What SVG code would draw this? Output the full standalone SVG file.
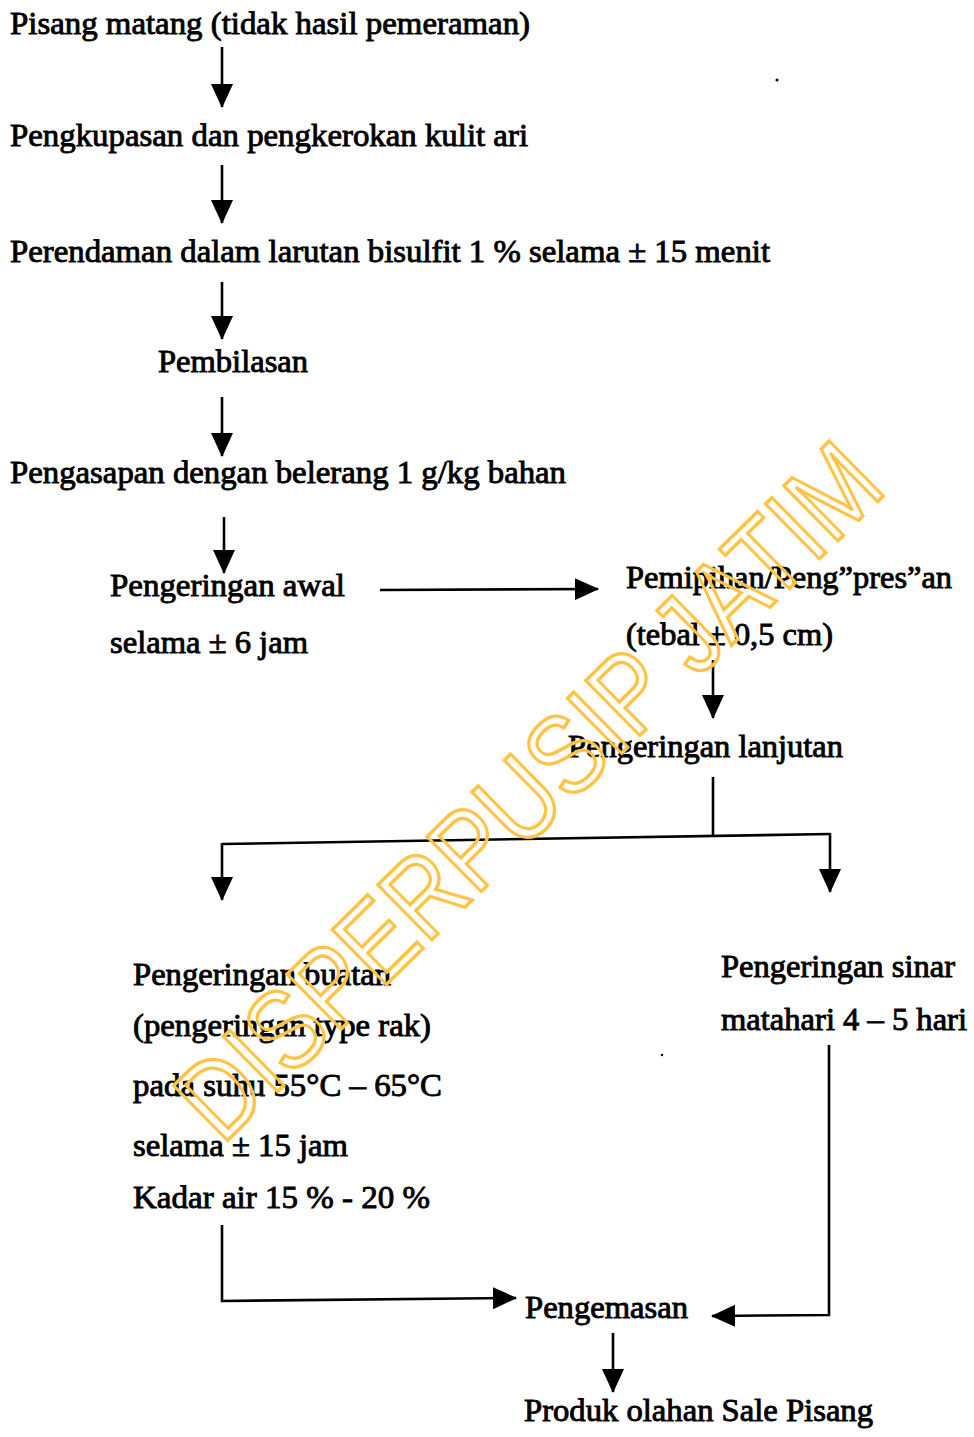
<svg xmlns="http://www.w3.org/2000/svg" width="974" height="1437" viewBox="0 0 974 1437">
<style>
.t{font-family:"Liberation Serif","Times New Roman",serif;font-size:32px;fill:#000;stroke:#000;stroke-width:0.9px}
.c{fill:none;stroke:#000;stroke-width:2.6px}
.wm{font-family:"Liberation Sans",Arial,sans-serif;font-size:112px;fill:none;stroke:#FFC447;stroke-width:3.5px}
</style>
<defs>
<marker id="ah" viewBox="0 0 24 22" refX="23" refY="11" markerWidth="24" markerHeight="22" markerUnits="userSpaceOnUse" orient="auto">
<path d="M0,0 L24,11 L0,22 Z" fill="#000"/>
</marker>
</defs>
<rect width="974" height="1437" fill="#fff"/>
<g id="n1"><text class="t" x="10" y="34" textLength="520" lengthAdjust="spacingAndGlyphs">Pisang matang (tidak hasil pemeraman)</text></g>
<g id="n2"><text class="t" x="10" y="146" textLength="518" lengthAdjust="spacingAndGlyphs">Pengkupasan dan pengkerokan kulit ari</text></g>
<g id="n3"><text class="t" x="10" y="262" textLength="760" lengthAdjust="spacingAndGlyphs">Perendaman dalam larutan bisulfit 1 % selama ± 15 menit</text></g>
<g id="n4"><text class="t" x="158" y="372" textLength="150" lengthAdjust="spacingAndGlyphs">Pembilasan</text></g>
<g id="n5"><text class="t" x="10" y="483" textLength="556" lengthAdjust="spacingAndGlyphs">Pengasapan dengan belerang 1 g/kg bahan</text></g>
<g id="n6"><text class="t" x="110" y="596" textLength="235" lengthAdjust="spacingAndGlyphs">Pengeringan awal</text><text class="t" x="110" y="653" textLength="198" lengthAdjust="spacingAndGlyphs">selama ± 6 jam</text></g>
<g id="n7"><text class="t" x="626" y="588" textLength="326" lengthAdjust="spacingAndGlyphs">Pemipihan/Peng”pres”an</text><text class="t" x="626" y="645" textLength="207" lengthAdjust="spacingAndGlyphs">(tebal ± 0,5 cm)</text></g>
<g id="n8"><text class="t" x="568" y="757" textLength="275" lengthAdjust="spacingAndGlyphs">Pengeringan lanjutan</text></g>
<g id="n9"><text class="t" x="133" y="985" textLength="258" lengthAdjust="spacingAndGlyphs">Pengeringan buatan</text><text class="t" x="133" y="1036" textLength="298" lengthAdjust="spacingAndGlyphs">(pengeringan type rak)</text><text class="t" x="133" y="1096" textLength="309" lengthAdjust="spacingAndGlyphs">pada suhu 55°C – 65°C</text><text class="t" x="133" y="1156" textLength="215" lengthAdjust="spacingAndGlyphs">selama ± 15 jam</text><text class="t" x="133" y="1208" textLength="297" lengthAdjust="spacingAndGlyphs">Kadar air 15 % - 20 %</text></g>
<g id="n10"><text class="t" x="721" y="977" textLength="234" lengthAdjust="spacingAndGlyphs">Pengeringan sinar</text><text class="t" x="721" y="1030" textLength="246" lengthAdjust="spacingAndGlyphs">matahari 4 – 5 hari</text></g>
<g id="n11"><text class="t" x="525" y="1318" textLength="163" lengthAdjust="spacingAndGlyphs">Pengemasan</text></g>
<g id="n12"><text class="t" x="524" y="1421" textLength="349" lengthAdjust="spacingAndGlyphs">Produk olahan Sale Pisang</text></g>
<g id="connectors">
<path class="c" d="M222,47 L222,107" marker-end="url(#ah)"/>
<path class="c" d="M222,165 L222,223" marker-end="url(#ah)"/>
<path class="c" d="M222,282 L222,339" marker-end="url(#ah)"/>
<path class="c" d="M222,397 L222,456" marker-end="url(#ah)"/>
<path class="c" d="M224,517 L224,573" marker-end="url(#ah)"/>
<path class="c" d="M380,590 L598,589" marker-end="url(#ah)"/>
<path class="c" d="M713,660 L713,718" marker-end="url(#ah)"/>
<path class="c" d="M713,777 L713,835"/>
<path class="c" d="M222,844 L830,834"/>
<path class="c" d="M222,843 L222,900" marker-end="url(#ah)"/>
<path class="c" d="M830,833 L830,892" marker-end="url(#ah)"/>
<path class="c" d="M222,1225 L222,1301 L516,1298" marker-end="url(#ah)"/>
<path class="c" d="M829,1045 L829,1315 L712,1316" marker-end="url(#ah)"/>
<path class="c" d="M613,1333 L613,1392" marker-end="url(#ah)"/>
</g>
<circle cx="777" cy="80" r="1.5" fill="#000"/>
<circle cx="662" cy="1055" r="1.2" fill="#000"/>
<text class="wm" transform="translate(222,1146) rotate(-44.5)" x="0" y="0" textLength="935" lengthAdjust="spacingAndGlyphs">DISPERPUSIP JATIM</text>
</svg>
